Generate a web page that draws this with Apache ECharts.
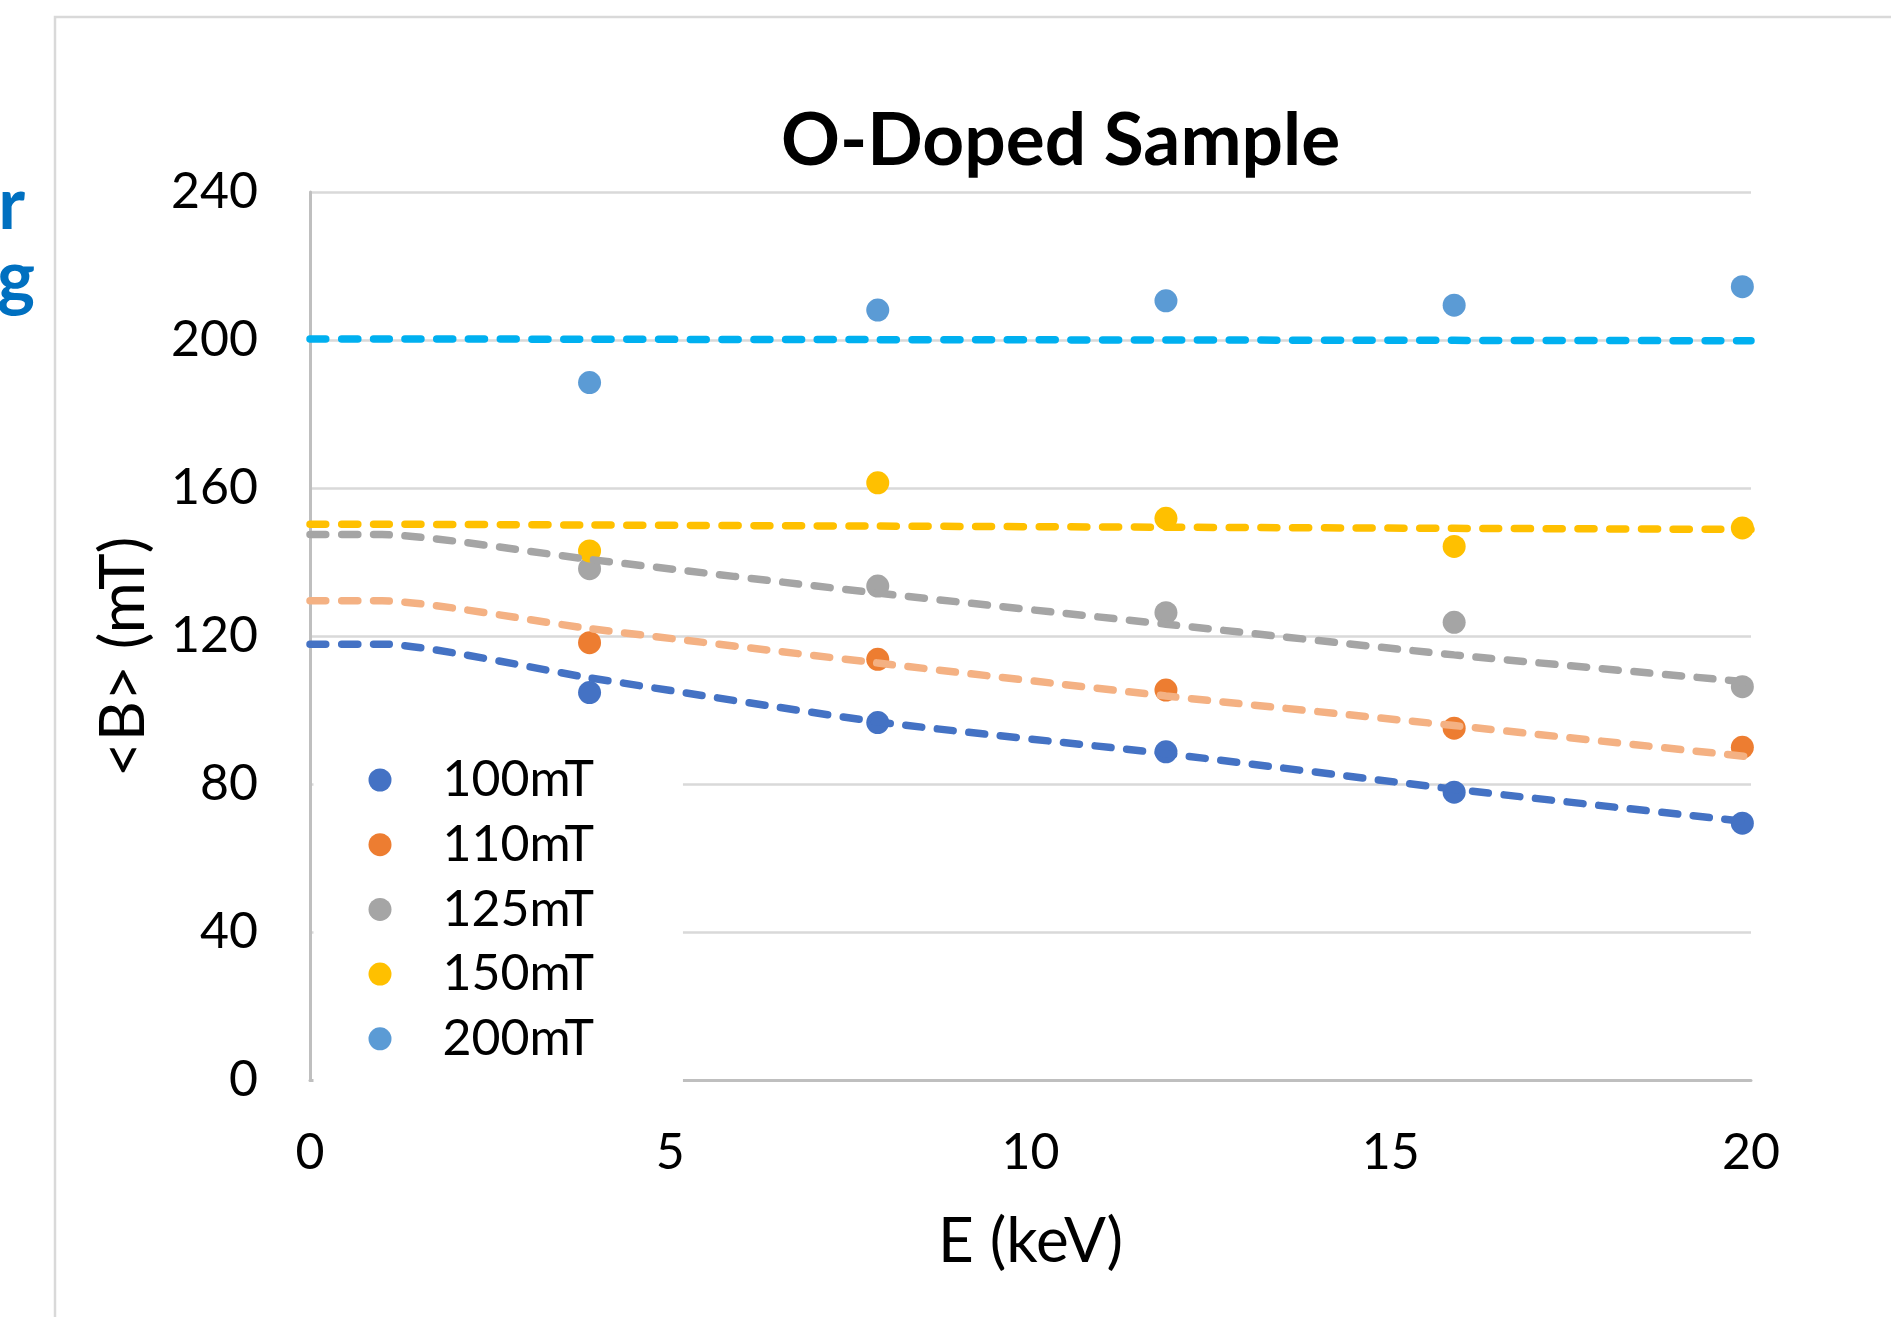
<!DOCTYPE html>
<html>
<head>
<meta charset="utf-8">
<title>O-Doped Sample</title>
<script src="https://cdn.jsdelivr.net/npm/echarts@6.0.0/dist/echarts.min.js"></script>
<style>
  html, body { margin: 0; padding: 0; background: #fff; }
  #root { width: 1891px; height: 1317px; }
</style>
</head>
<body>
<div id="root"></div>
<script>
// measured points, E in keV, <B> in mT
var energies = [3.88, 7.88, 11.88, 15.88, 19.88]
var b100 = [104.7, 96.6, 88.7, 77.8, 69.4]
var b110 = [118.2, 113.7, 105.4, 95.1, 89.9]
var b125 = [138.2, 133.5, 126.3, 123.7, 106.3]
var b150 = [143.0, 161.4, 151.8, 144.2, 149.2]
var b200 = [188.5, 208.1, 210.6, 209.4, 214.4]

// dashed model curves
var fitEnergies = [0, 1, 3.88, 7.88, 11.88, 15.88, 20]
var fit100 = [117.8, 117.8, 108.7, 96.8, 88.2, 78.6, 69.7]
var fit110 = [129.5, 129.5, 122.0, 112.7, 103.8, 95.8, 87.3]
var fit125 = [147.4, 147.4, 140.7, 131.6, 123.2, 114.9, 107.5]
var fit150 = [150.2, 150.2, 150.0, 149.7, 149.4, 149.1, 148.8]
var fit200 = [200.3, 200.3, 200.2, 200.1, 200.0, 199.9, 199.8]

var fieldNames = ['100mT', '110mT', '125mT', '150mT', '200mT']
var xTicks = [0, 5, 10, 15, 20]
var yTicks = [0, 40, 80, 120, 160, 200, 240]

var pointColors = ['#4472C4', '#ED7D31', '#A5A5A5', '#FFC000', '#5B9BD5']
var fitColors = ['#4472C4', '#F4B183', '#A5A5A5', '#FFC000', '#00B0F0']

var measured = [b100, b110, b125, b150, b200]
var fits = [fit100, fit110, fit125, fit150, fit200]

var font = 'Lato'

var scatterSeries = fieldNames.map(function (name, i) {
  return {
    name: name,
    type: 'scatter',
    symbol: 'circle',
    symbolSize: 23,
    itemStyle: { color: pointColors[i], opacity: 1 },
    z: 2,
    data: energies.map(function (e, j) { return [e, measured[i][j]] })
  }
})

var fitSeries = fieldNames.map(function (name, i) {
  return {
    name: name + ' fit',
    type: 'line',
    showSymbol: false,
    symbol: 'none',
    smooth: 0.2,
    lineStyle: { color: fitColors[i], width: 7.5, type: [16, 15.7], cap: 'round' },
    z: 3,
    data: fitEnergies.map(function (e, j) { return [e, fits[i][j]] })
  }
})

var myChart = echarts.init(document.getElementById('root'), null, { renderer: 'canvas' })

var option = {
  animation: false,
  backgroundColor: '#fff',
  title: {
    text: 'O-Doped Sample',
    left: 781,
    top: 101,
    padding: 0,
    textStyle: { fontFamily: font, fontWeight: 'bold', fontSize: 73, lineHeight: 80, color: '#000' }
  },
  graphic: [
    {
      type: 'rect',
      silent: true,
      z: -10,
      shape: { x: 55, y: 17, width: 2000, height: 2000 },
      style: { fill: 'none', stroke: '#d9d9d9', lineWidth: 2.5 }
    },
    {
      type: 'text',
      silent: true,
      x: 25,
      y: 206,
      style: { text: 'r', fill: '#0070C0', font: 'bold 72px Lato', align: 'right', verticalAlign: 'middle' }
    },
    {
      type: 'text',
      silent: true,
      x: 35,
      y: 279,
      style: { text: 'g', fill: '#0070C0', font: 'bold 72px Lato', align: 'right', verticalAlign: 'middle' }
    }
  ],
  legend: {
    data: fieldNames,
    orient: 'vertical',
    left: 313.5,
    top: 725,
    padding: [30, 89, 30, 55],
    backgroundColor: '#fff',
    icon: 'circle',
    itemWidth: 23,
    itemHeight: 23,
    itemGap: 14.7,
    selectedMode: false,
    textStyle: { fontFamily: font, fontSize: 50, lineHeight: 50, color: '#000', padding: [0, 0, 0, 46] }
  },
  grid: { left: 310, right: 140, top: 192, bottom: 237, containLabel: false },
  xAxis: {
    type: 'value',
    min: xTicks[0],
    max: xTicks[xTicks.length - 1],
    interval: xTicks[1] - xTicks[0],
    name: 'E (keV)',
    nameLocation: 'middle',
    nameGap: 127,
    nameTextStyle: { fontFamily: font, fontSize: 62, lineHeight: 70, color: '#000' },
    axisLine: { show: true, onZero: false, lineStyle: { color: '#bfbfbf', width: 3 } },
    axisTick: { show: false },
    splitLine: { show: false },
    axisLabel: { margin: 45, fontFamily: font, fontSize: 50, lineHeight: 56, color: '#000' }
  },
  yAxis: {
    type: 'value',
    min: yTicks[0],
    max: yTicks[yTicks.length - 1],
    interval: yTicks[1] - yTicks[0],
    name: '<B> (mT)',
    nameLocation: 'middle',
    nameRotate: 90,
    nameGap: 151,
    nameTextStyle: { fontFamily: font, fontSize: 62, lineHeight: 70, color: '#000', padding: [0, 42, 0, 0] },
    axisLine: { show: true, lineStyle: { color: '#bfbfbf', width: 3 } },
    axisTick: { show: false },
    splitLine: { show: true, lineStyle: { color: '#d9d9d9', width: 2.5 } },
    axisLabel: { margin: 52, fontFamily: font, fontSize: 50, color: '#000' }
  },
  series: scatterSeries.concat(fitSeries)
}

myChart.setOption(option)

window.addEventListener('resize', myChart.resize)
</script>
</body>
</html>
